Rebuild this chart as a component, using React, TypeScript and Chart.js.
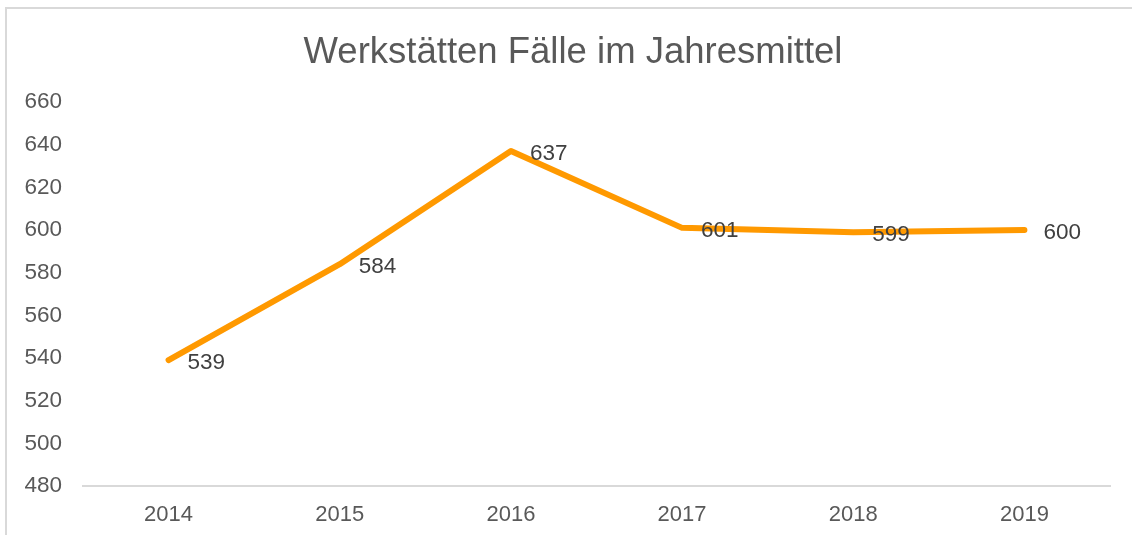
import React, { useEffect, useRef } from "react";
import { Chart, registerables } from "chart.js";

Chart.register(...registerables);

const categories = ["2014", "2015", "2016", "2017", "2018", "2019"];
const values = [539, 584, 637, 601, 599, 600];
const yMin = 480;
const yMax = 660;
const yStep = 20;
const titleText = "Werkstätten Fälle im Jahresmittel";

const FONT = "'Liberation Sans', Arial, sans-serif";

const dataLabelPlugin = {
  id: "dataLabels",
  afterDatasetsDraw(chart: any) {
    const ctx = chart.ctx;
    const meta = chart.getDatasetMeta(0);
    ctx.save();
    ctx.font = `22.5px ${FONT}`;
    ctx.fillStyle = "#404040";
    ctx.textAlign = "left";
    ctx.textBaseline = "middle";
    meta.data.forEach((pt: any, i: number) => {
      const v = chart.data.datasets[0].data[i];
      ctx.fillText(String(v), pt.x + 19, pt.y + 3);
    });
    ctx.restore();
  },
};

const titlePlugin = {
  id: "customTitle",
  afterDraw(chart: any) {
    const ctx = chart.ctx;
    ctx.save();
    ctx.font = `36.5px ${FONT}`;
    ctx.fillStyle = "#595959";
    ctx.textAlign = "center";
    ctx.textBaseline = "alphabetic";
    ctx.fillText(titleText, 573, 63);
    ctx.restore();
  },
};

export default function App() {
  const ref = useRef<HTMLCanvasElement | null>(null);
  useEffect(() => {
    if (!ref.current) return;
    const chart = new Chart(ref.current, {
      type: "line",
      data: {
        labels: categories,
        datasets: [
          {
            data: values,
            borderColor: "#FF9900",
            backgroundColor: "#FF9900",
            borderWidth: 6,
            pointRadius: 0,
            tension: 0,
            borderJoinStyle: "round",
            borderCapStyle: "round",
          },
        ],
      },
      options: {
        animation: false,
        responsive: false,
        devicePixelRatio: 1,
        layout: { padding: { left: 0, right: 22, top: 102, bottom: 0 } },
        plugins: {
          legend: { display: false },
          tooltip: { enabled: false },
          title: { display: false },
        },
        scales: {
          x: {
            offset: true,
            grid: { display: false, drawTicks: false },
            border: { display: true, color: "#d9d9d9", width: 2 },
            ticks: {
              color: "#595959",
              font: { family: FONT, size: 22 },
              padding: 16,
              maxRotation: 0,
            },
            afterFit(scale: any) {
              scale.height = 49;
            },
          },
          y: {
            min: yMin,
            max: yMax,
            grid: { display: false, drawTicks: false },
            border: { display: false },
            ticks: {
              stepSize: yStep,
              color: "#595959",
              font: { family: FONT, size: 22.5 },
              padding: 21,
            },
            afterFit(scale: any) {
              scale.width = 83;
            },
          },
        },
      },
      plugins: [dataLabelPlugin, titlePlugin],
    } as any);
    return () => chart.destroy();
  }, []);

  return (
    <div
      style={{
        position: "fixed",
        left: 0,
        top: 0,
        width: 1132,
        height: 535,
        background: "#ffffff",
        overflow: "hidden",
      }}
    >
      <div
        style={{
          position: "absolute",
          left: 5,
          top: 7,
          width: 1200,
          height: 600,
          borderLeft: "2px solid #d9d9d9",
          borderTop: "2px solid #d9d9d9",
        }}
      />
      <canvas
        ref={ref}
        width={1132}
        height={535}
        style={{ position: "absolute", left: 0, top: 0, width: 1132, height: 535 }}
      />
    </div>
  );
}
